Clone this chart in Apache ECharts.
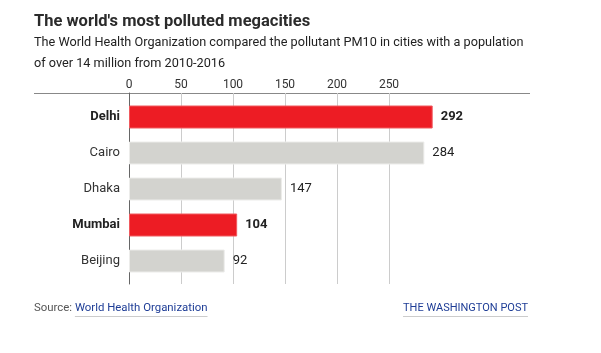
<!DOCTYPE html>
<html>
<head>
<meta charset="utf-8">
<script src="https://cdn.jsdelivr.net/npm/echarts@6/dist/echarts.min.js"></script>
<style>
html,body{margin:0;padding:0;background:#fff;}
#c{width:601px;height:353px;}
</style>
</head>
<body>
<div id="c"></div>
<script>
// ---- data ----
var cities = ['Delhi', 'Cairo', 'Dhaka', 'Mumbai', 'Beijing'];
var pm10 = [292, 284, 147, 104, 92];
var highlighted = [true, false, false, true, false];
var axisMax = 300;
var tickStep = 50;

var FONT = 'Roboto';
var RED = '#ed1c24', RED_BORDER = '#f05a5f';
var GRAY = '#d3d3cf', GRAY_BORDER = '#ececea';
var BLUE = '#1e3d96';

function measure(text, font) {
  var ctx = document.createElement('canvas').getContext('2d');
  ctx.font = font;
  return ctx.measureText(text).width;
}

var chart = echarts.init(document.getElementById('c'), null, {renderer: 'canvas'});

var srcPrefix = 'Source: ';
var srcLink = 'World Health Organization';
var srcSize = 11.4;
var srcFont = srcSize + 'px ' + FONT;
var prefixW = measure(srcPrefix, srcFont);
var linkW = measure(srcLink, srcFont);
var wapo = 'THE WASHINGTON POST';
var wapoSize = 11;
var wapoW = measure(wapo, wapoSize + 'px ' + FONT);
var wapoRight = 528;

var barData = pm10.map(function (v, i) {
  var hi = highlighted[i];
  return {
    value: v,
    itemStyle: {color: hi ? RED : GRAY, borderColor: hi ? RED_BORDER : GRAY_BORDER, borderWidth: 1},
    label: {fontWeight: hi ? 'bold' : 'normal', color: '#222'}
  };
});

var option = {
  animation: false,
  textStyle: {fontFamily: FONT},
  grid: [
    {left: 129, width: 312, top: 93, height: 191, containLabel: false},
    {left: 129, width: 312, top: 99, height: 180, containLabel: false}
  ],
  xAxis: [
    {
      gridIndex: 0, type: 'value', position: 'top', min: 0, max: axisMax, interval: tickStep,
      axisLine: {show: false}, axisTick: {show: false},
      axisLabel: {
        margin: 2, fontSize: 12, color: '#333', fontFamily: FONT,
        formatter: function (v) { return v >= axisMax ? '' : String(v); }
      },
      splitLine: {show: true, showMaxLine: false, lineStyle: {color: '#cccccc', width: 1}}
    },
    {
      gridIndex: 1, type: 'value', min: 0, max: axisMax, show: false
    }
  ],
  yAxis: [
    {
      gridIndex: 0, type: 'value', min: 0, max: 1,
      axisLine: {show: true, lineStyle: {color: '#666', width: 1}},
      axisTick: {show: false}, axisLabel: {show: false}, splitLine: {show: false}
    },
    {
      gridIndex: 1, type: 'category', inverse: true, data: cities,
      axisLine: {show: false}, axisTick: {show: false}, splitLine: {show: false},
      axisLabel: {
        margin: 9, fontSize: 13, fontFamily: FONT,
        formatter: function (v, i) { return (highlighted[i] ? '{b|' : '{n|') + v + '}'; },
        rich: {
          b: {fontWeight: 'bold', color: '#222', fontSize: 13, fontFamily: FONT},
          n: {color: '#333', fontSize: 13, fontFamily: FONT}
        }
      }
    }
  ],
  series: [{
    type: 'bar', xAxisIndex: 1, yAxisIndex: 1, data: barData, barWidth: 23,
    label: {show: true, position: 'right', distance: 8, fontSize: 13, fontFamily: FONT, color: '#222'}
  }],
  graphic: [
    {type: 'text', left: 34, top: 13, style: {text: "The world's most polluted megacities", fontSize: 16.5, fontWeight: 'bold', fill: '#2b2b2b', fontFamily: FONT}},
    {type: 'text', left: 34, top: 36, style: {text: 'The World Health Organization compared the pollutant PM10 in cities with a population', fontSize: 12.7, fill: '#222', fontFamily: FONT}},
    {type: 'text', left: 34, top: 57, style: {text: 'of over 14 million from 2010-2016', fontSize: 12.7, fill: '#222', fontFamily: FONT}},
    {type: 'line', shape: {x1: 34, y1: 93.5, x2: 530, y2: 93.5}, style: {stroke: '#888', lineWidth: 1}},
    {type: 'text', left: 34, top: 303, style: {
      text: '{a|' + srcPrefix + '}{b|' + srcLink + '}',
      rich: {a: {fontSize: srcSize, fill: '#555', fontFamily: FONT}, b: {fontSize: srcSize, fill: BLUE, fontFamily: FONT}}
    }},
    {type: 'line', shape: {x1: 34 + prefixW, y1: 316.5, x2: 34 + prefixW + linkW, y2: 316.5}, style: {stroke: '#cccccc', lineWidth: 1}},
    {type: 'text', left: wapoRight - wapoW, top: 303, style: {text: wapo, fontSize: wapoSize, fill: BLUE, fontFamily: FONT}},
    {type: 'line', shape: {x1: wapoRight - wapoW, y1: 316.5, x2: wapoRight, y2: 316.5}, style: {stroke: '#cccccc', lineWidth: 1}}
  ]
};
chart.setOption(option);
</script>
</body>
</html>
